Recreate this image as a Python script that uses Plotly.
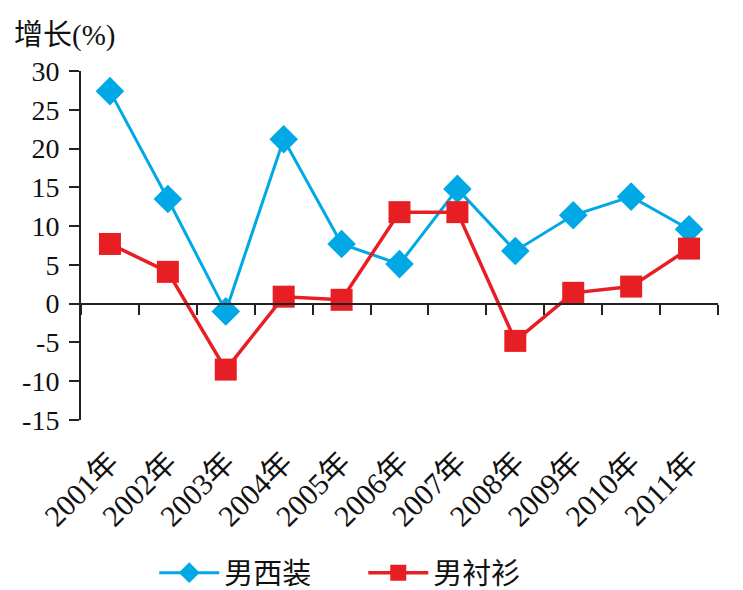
import plotly.graph_objects as go

years = ["2001年", "2002年", "2003年", "2004年", "2005年", "2006年",
         "2007年", "2008年", "2009年", "2010年", "2011年"]
suits = [27.4, 13.5, -1.0, 21.2, 7.7, 5.1, 14.8, 6.8, 11.4, 13.8, 9.6]
shirts = [7.7, 4.1, -8.5, 0.9, 0.5, 11.8, 11.8, -4.8, 1.4, 2.2, 7.1]
ytick_vals = [30, 25, 20, 15, 10, 5, 0, -5, -10, -15]
ytick_text = ["30", "25", "20", "15", "10", "5", "0", "-5", "-10", "-15"]

FONT = "Liberation Serif, Times New Roman, Noto Sans CJK SC, serif"
BLUE = "#00a9e6"
RED = "#e81e25"
AX = "#222222"

fig = go.Figure()
fig.add_trace(go.Scatter(x=years, y=suits, name="男西装", mode="lines+markers",
                         line=dict(color=BLUE, width=3),
                         marker=dict(symbol="diamond", size=22, color=BLUE)))
fig.add_trace(go.Scatter(x=years, y=shirts, name="男衬衫", mode="lines+markers",
                         line=dict(color=RED, width=3.5),
                         marker=dict(symbol="square", size=22, color=RED)))
# invisible helper trace establishing categories on the axis drawn at y=0
fig.add_trace(go.Scatter(x=years, y=[0] * len(years), xaxis="x2", mode="markers",
                         marker=dict(opacity=0), showlegend=False, hoverinfo="skip"))

fig.update_layout(
    width=735, height=582,
    margin=dict(l=73, r=25, t=63, b=170, autoexpand=False),
    plot_bgcolor="white", paper_bgcolor="white",
    font=dict(family=FONT, size=24, color="#111111"),
    showlegend=True,
    legend=dict(orientation="h", x=0.115, xanchor="left", y=-0.438, yanchor="middle",
                font=dict(size=29), itemwidth=60, entrywidth=134, entrywidthmode="pixels"),
    xaxis=dict(type="category", categoryorder="array", categoryarray=years,
               range=[-0.5, 10.5], showline=False, showgrid=False, zeroline=False,
               automargin=False,
               ticks="", tickangle=-45, tickfont=dict(size=30), ticklabelstandoff=18),
    xaxis2=dict(type="category", categoryorder="array", categoryarray=years,
                range=[-0.5, 10.5], overlaying="x", anchor="free", position=1/3,
                automargin=False,
                showline=True, linecolor=AX, linewidth=2, showgrid=False, zeroline=False,
                ticks="outside", tickson="boundaries", ticklen=10, tickwidth=2,
                tickcolor=AX, showticklabels=False),
    yaxis=dict(range=[-15, 30], tickvals=ytick_vals, ticktext=ytick_text,
               automargin=False,
               showline=True, linecolor=AX, linewidth=2, showgrid=False, zeroline=False,
               ticks="outside", ticklen=10, tickwidth=2, tickcolor=AX,
               tickfont=dict(size=28), ticklabelstandoff=4),
    annotations=[dict(text="增长(%)", xref="paper", yref="paper",
                      x=-0.108, xanchor="left", y=1.103, yanchor="middle",
                      showarrow=False, font=dict(size=29))],
)

fig.write_html("out.html")
